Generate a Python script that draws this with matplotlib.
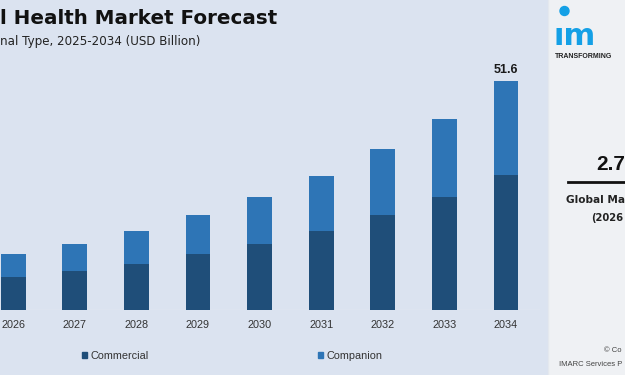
import matplotlib
matplotlib.use("Agg")
import matplotlib.pyplot as plt
from matplotlib.patches import Rectangle, Ellipse
from matplotlib.lines import Line2D

years = ["2026", "2027", "2028", "2029", "2030", "2031", "2032", "2033", "2034"]
commercial = [7.4, 8.8, 10.4, 12.6, 15.0, 17.8, 21.4, 25.6, 30.5]
companion = [5.2, 6.0, 7.5, 8.8, 10.4, 12.5, 14.9, 17.6, 21.1]
series_names = ["Commercial", "Companion"]
end_label = "51.6"

BG = "#dbe3f0"
DARK = "#1f4e79"
LIGHT = "#2e75b6"
W, H = 625, 375

plt.rcParams['font.family'] = ['Liberation Sans', 'DejaVu Sans']

fig = plt.figure(figsize=(6.25, 3.75), dpi=100)
fig.patch.set_facecolor(BG)

def fx(px):
    return px / W

def fy(py):
    return 1 - py / H

# Bars axes
ax_w = 540
ax_bottom = 65
ymax = 60
ppu_y = 228.7 / 51.6
ax = fig.add_axes([0, ax_bottom / H, ax_w / W, ymax * ppu_y / H])
ax.set_facecolor("none")
x = list(range(len(years)))
ax.bar(x, commercial, width=0.4, color=DARK, label=series_names[0], zorder=2)
ax.bar(x, companion, width=0.4, bottom=commercial, color=LIGHT, label=series_names[1], zorder=2)
spacing = 61.6
a = -13.2 / spacing
ax.set_xlim(a, a + ax_w / spacing)
ax.set_ylim(0, ymax)
for s in ax.spines.values():
    s.set_visible(False)
ax.axhline(0, color="#e6ebf4", lw=1.0, zorder=1)
ax.set_yticks([])
ax.set_xticks(x)
ax.set_xticklabels(years, fontsize=7.8, color="#333333")
ax.tick_params(axis="x", length=0, pad=7)
tot = commercial[-1] + companion[-1]
ax.annotate(end_label, (x[-1], tot), xytext=(0, 4), textcoords="offset points",
            ha="center", va="bottom", fontsize=9, fontweight="bold", color="#1a1a1a")

# Legend
handles = [Rectangle((0, 0), 1, 1, color=DARK), Rectangle((0, 0), 1, 1, color=LIGHT)]
leg = fig.legend(handles, series_names, loc="center left", bbox_to_anchor=(fx(72), fy(356)),
                 ncol=2, frameon=False, fontsize=7.8, handlelength=0.45, handleheight=0.45,
                 handletextpad=0.35, columnspacing=15.6, labelcolor="#333333")

# Title (left part is cut off in the reference image)
fig.text(0, fy(18), "l Health Market Forecast", ha="left", va="center",
         fontsize=14.3, fontweight="bold", color="#111111", family="DejaVu Sans")
fig.text(0, fy(42), "nal Type, 2025-2034 (USD Billion)", ha="left", va="center",
         fontsize=8.6, color="#222222", family="DejaVu Sans")

# Right panel (cut off at the right edge in the reference image)
fig.add_artist(Rectangle((fx(548), 0), 1 - fx(548), 1, transform=fig.transFigure,
                         facecolor="#eff1f4", edgecolor="none", zorder=0))
fig.add_artist(Line2D([fx(548), fx(548)], [0, 1], transform=fig.transFigure, color="#e4e8ee", lw=1))
fig.add_artist(Ellipse((fx(564.5), fy(11)), 9 / W, 9 / H, transform=fig.transFigure,
                       color="#14a0e6"))
fig.text(fx(553), fy(45), "\u0131m", ha="left", va="baseline", fontsize=22, fontweight="bold",
         color="#14a0e6", family="DejaVu Sans")
fig.text(fx(555), fy(57), "TRANSFORMING", ha="left", va="center",
         fontsize=5.0, fontweight="bold", color="#222222")
fig.text(fx(596), fy(165), "2.7", ha="left", va="center", fontsize=15, fontweight="bold",
         color="#111111")
fig.add_artist(Line2D([fx(568), 1.0], [fy(181.5), fy(181.5)], transform=fig.transFigure,
                      color="#111111", lw=2))
fig.text(fx(566), fy(200), "Global Ma", ha="left", va="center", fontsize=7.6,
         fontweight="bold", color="#222222", family="DejaVu Sans")
fig.text(fx(591), fy(218), "(2026", ha="left", va="center", fontsize=7.2,
         fontweight="bold", color="#222222", family="DejaVu Sans")
fig.text(fx(604), fy(351), "© Co", ha="left", va="center", fontsize=5.5, color="#444444")
fig.text(fx(559), fy(364), "IMARC Services P", ha="left", va="center", fontsize=5.5,
         color="#444444")

fig.savefig("out.png", dpi=100, facecolor=fig.get_facecolor())
